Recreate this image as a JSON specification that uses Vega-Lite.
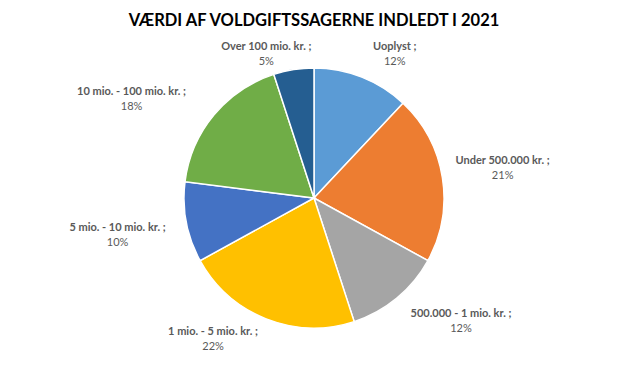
{
  "$schema": "https://vega.github.io/schema/vega-lite/v6.json",
  "autosize": "none",
  "width": 628,
  "height": 316,
  "padding": {"top": 40, "left": 0, "right": 0, "bottom": 9},
  "background": "white",
  "title": {
    "text": "VÆRDI AF VOLDGIFTSSAGERNE INDLEDT I 2021",
    "font": "Lato",
    "fontSize": 16.5,
    "fontWeight": "bold",
    "color": "#000000",
    "offset": 11,
    "anchor": "middle"
  },
  "data": {
    "values": [
      {"kategori": "Uoplyst", "andel": 0.12, "orden": 1},
      {"kategori": "Under 500.000 kr.", "andel": 0.21, "orden": 2},
      {"kategori": "500.000 - 1 mio. kr.", "andel": 0.12, "orden": 3},
      {"kategori": "1 mio. - 5 mio. kr.", "andel": 0.22, "orden": 4},
      {"kategori": "5 mio. - 10 mio. kr.", "andel": 0.10, "orden": 5},
      {"kategori": "10 mio. - 100 mio. kr.", "andel": 0.18, "orden": 6},
      {"kategori": "Over 100 mio. kr.", "andel": 0.05, "orden": 7}
    ]
  },
  "encoding": {
    "theta": {"field": "andel", "type": "quantitative", "stack": true},
    "order": {"field": "orden", "type": "quantitative"}
  },
  "layer": [
    {
      "mark": {"type": "arc", "outerRadius": 130, "stroke": "white", "strokeWidth": 1.5},
      "encoding": {
        "color": {
          "field": "kategori",
          "type": "nominal",
          "legend": null,
          "scale": {
            "domain": ["Uoplyst", "Under 500.000 kr.", "500.000 - 1 mio. kr.", "1 mio. - 5 mio. kr.", "5 mio. - 10 mio. kr.", "10 mio. - 100 mio. kr.", "Over 100 mio. kr."],
            "range": ["#5B9BD5", "#ED7D31", "#A5A5A5", "#FFC000", "#4472C4", "#70AD47", "#255E91"]
          }
        }
      }
    },
    {
      "mark": {
        "type": "text",
        "font": "Lato",
        "fontSize": 11,
        "fontWeight": "bold",
        "color": "#595959",
        "align": "center",
        "baseline": "middle",
        "dy": -7.5,
        "text": {"expr": "datum.kategori + ' ;'"},
        "radius": {"expr": "datum.kategori == 'Uoplyst' ? 154 : datum.kategori == 'Over 100 mio. kr.' ? 145 : datum.kategori == '1 mio. - 5 mio. kr.' ? 152 : datum.kategori == 'Under 500.000 kr.' ? 191 : datum.kategori == '500.000 - 1 mio. kr.' ? 160 : datum.kategori == '5 mio. - 10 mio. kr.' ? 200 : 155"},
        "dx": {"expr": "datum.kategori == 'Uoplyst' ? 24 : datum.kategori == 'Over 100 mio. kr.' ? -25 : datum.kategori == '1 mio. - 5 mio. kr.' ? -45 : datum.kategori == '500.000 - 1 mio. kr.' ? 45 : datum.kategori == '10 mio. - 100 mio. kr.' ? -63 : 0"}
      }
    },
    {
      "mark": {
        "type": "text",
        "font": "Lato",
        "fontSize": 11,
        "color": "#595959",
        "align": "center",
        "baseline": "middle",
        "dy": 7.5,
        "radius": {"expr": "datum.kategori == 'Uoplyst' ? 154 : datum.kategori == 'Over 100 mio. kr.' ? 145 : datum.kategori == '1 mio. - 5 mio. kr.' ? 152 : datum.kategori == 'Under 500.000 kr.' ? 191 : datum.kategori == '500.000 - 1 mio. kr.' ? 160 : datum.kategori == '5 mio. - 10 mio. kr.' ? 200 : 155"},
        "dx": {"expr": "datum.kategori == 'Uoplyst' ? 24 : datum.kategori == 'Over 100 mio. kr.' ? -25 : datum.kategori == '1 mio. - 5 mio. kr.' ? -45 : datum.kategori == '500.000 - 1 mio. kr.' ? 45 : datum.kategori == '10 mio. - 100 mio. kr.' ? -63 : 0"}
      },
      "encoding": {
        "text": {"field": "andel", "type": "quantitative", "format": ".0%"}
      }
    }
  ]
}
